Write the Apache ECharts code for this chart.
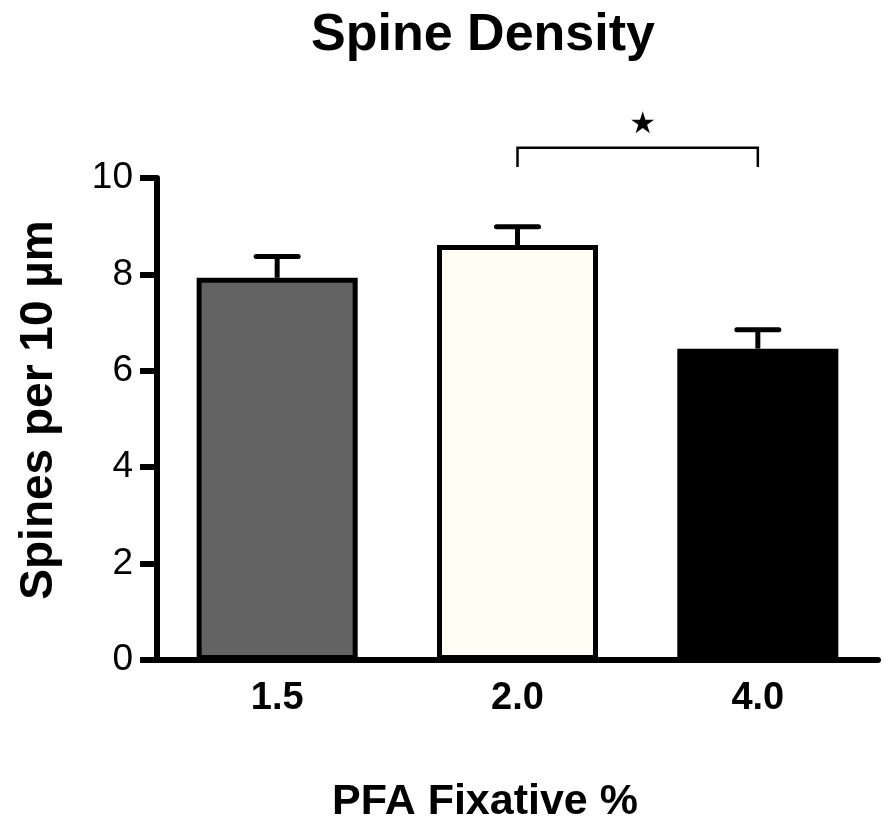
<!DOCTYPE html>
<html>
<head>
<meta charset="utf-8">
<script src="https://cdn.jsdelivr.net/npm/echarts@6/dist/echarts.min.js"></script>
<style>
  html, body { margin: 0; padding: 0; background: #fff; }
  #chart { width: 892px; height: 835px; }
</style>
</head>
<body>
<div id="chart"></div>
<script>
// data
const categories = ["1.5", "2.0", "4.0"];
const means = [7.93, 8.61, 6.46];
const errTops = [8.37, 8.99, 6.85];
// significance bracket: from category index, to category index, leg bottom, bar top, star level
const sigPair = [1, 2];
const sigLevels = [10.23, 10.63, 11.1];

const barColors = ["#636363", "#fffef5", "#000000"];
const FONT = "Liberation Sans, Arial, Helvetica, sans-serif";

const chartDom = document.getElementById("chart");
const myChart = echarts.init(chartDom);

const barData = means.map((v, i) => ({
  value: v,
  itemStyle: { color: barColors[i] },
}));

const errData = means.map((v, i) => [i, v, errTops[i]]);

const option = {
  animation: false,
  title: [
    {
      text: "Spine Density",
      left: 483,
      top: 10,
      padding: 0,
      textAlign: "center",
      textStyle: { fontFamily: FONT, fontSize: 52, fontWeight: "bold", color: "#000" },
    },
    {
      text: "PFA Fixative %",
      left: 485,
      top: 781,
      padding: 0,
      textAlign: "center",
      textStyle: { fontFamily: FONT, fontSize: 43, fontWeight: "bold", color: "#000" },
    },
  ],
  grid: {
    left: 157,
    right: 14,
    top: 178,
    bottom: 175,
    containLabel: false,
  },
  xAxis: {
    type: "category",
    data: categories,
    axisLine: { lineStyle: { color: "#000", width: 6 } },
    axisTick: { alignWithLabel: true, length: 16, lineStyle: { color: "#000", width: 6 } },
    axisLabel: {
      margin: 20,
      color: "#000",
      fontFamily: FONT,
      fontSize: 38,
      fontWeight: "bold",
    },
    splitLine: { show: false },
  },
  yAxis: {
    type: "value",
    min: 0,
    max: 10,
    interval: 2,
    name: "Spines per 10 µm",
    nameLocation: "middle",
    nameGap: 95,
    nameTextStyle: {
      fontFamily: FONT,
      fontSize: 46,
      fontWeight: "bold",
      color: "#000",
      padding: [0, 0, 0, 18],
    },
    axisLine: { show: true, lineStyle: { color: "#000", width: 6 } },
    axisTick: { show: true, length: 17, lineStyle: { color: "#000", width: 6 } },
    axisLabel: { margin: 24, color: "#000", fontFamily: FONT, fontSize: 37 },
    splitLine: { show: false },
  },
  series: [
    {
      type: "bar",
      data: barData,
      barCategoryGap: "33%",
      itemStyle: { borderColor: "#000", borderWidth: 5 },
      z: 2,
    },
    {
      // upper error whiskers
      type: "custom",
      data: errData,
      z: 1,
      clip: false,
      renderItem: (params, api) => {
        const x = api.value(0);
        const base = api.coord([x, api.value(1)]);
        const top = api.coord([x, api.value(2)]);
        const capHalf = 21;
        const style = { stroke: "#000", lineWidth: 5, fill: null };
        return {
          type: "group",
          children: [
            { type: "line", shape: { x1: base[0], y1: base[1], x2: top[0], y2: top[1] }, style },
            {
              type: "line",
              shape: { x1: top[0] - capHalf, y1: top[1], x2: top[0] + capHalf, y2: top[1] },
              style: Object.assign({ lineCap: "round" }, style),
            },
          ],
        };
      },
    },
    {
      // significance bracket with star
      type: "custom",
      data: [[sigPair[0], sigPair[1], sigLevels[0], sigLevels[1], sigLevels[2]]],
      clip: false,
      z: 3,
      renderItem: (params, api) => {
        const a = api.value(0);
        const b = api.value(1);
        const p1 = api.coord([a, api.value(2)]);
        const p2 = api.coord([a, api.value(3)]);
        const p3 = api.coord([b, api.value(3)]);
        const p4 = api.coord([b, api.value(2)]);
        const star = api.coord([a, api.value(4)]);
        return {
          type: "group",
          children: [
            {
              type: "polyline",
              shape: { points: [p1, p2, p3, p4] },
              style: { stroke: "#000", lineWidth: 2.5, fill: null },
            },
            {
              type: "text",
              style: {
                text: "★",
                x: (p2[0] + p3[0]) / 2 + 5,
                y: star[1],
                align: "center",
                verticalAlign: "middle",
                fontSize: 30,
                fontFamily: "DejaVu Sans, sans-serif",
                fill: "#000",
              },
            },
          ],
        };
      },
    },
  ],
};

option && myChart.setOption(option);
</script>
</body>
</html>
